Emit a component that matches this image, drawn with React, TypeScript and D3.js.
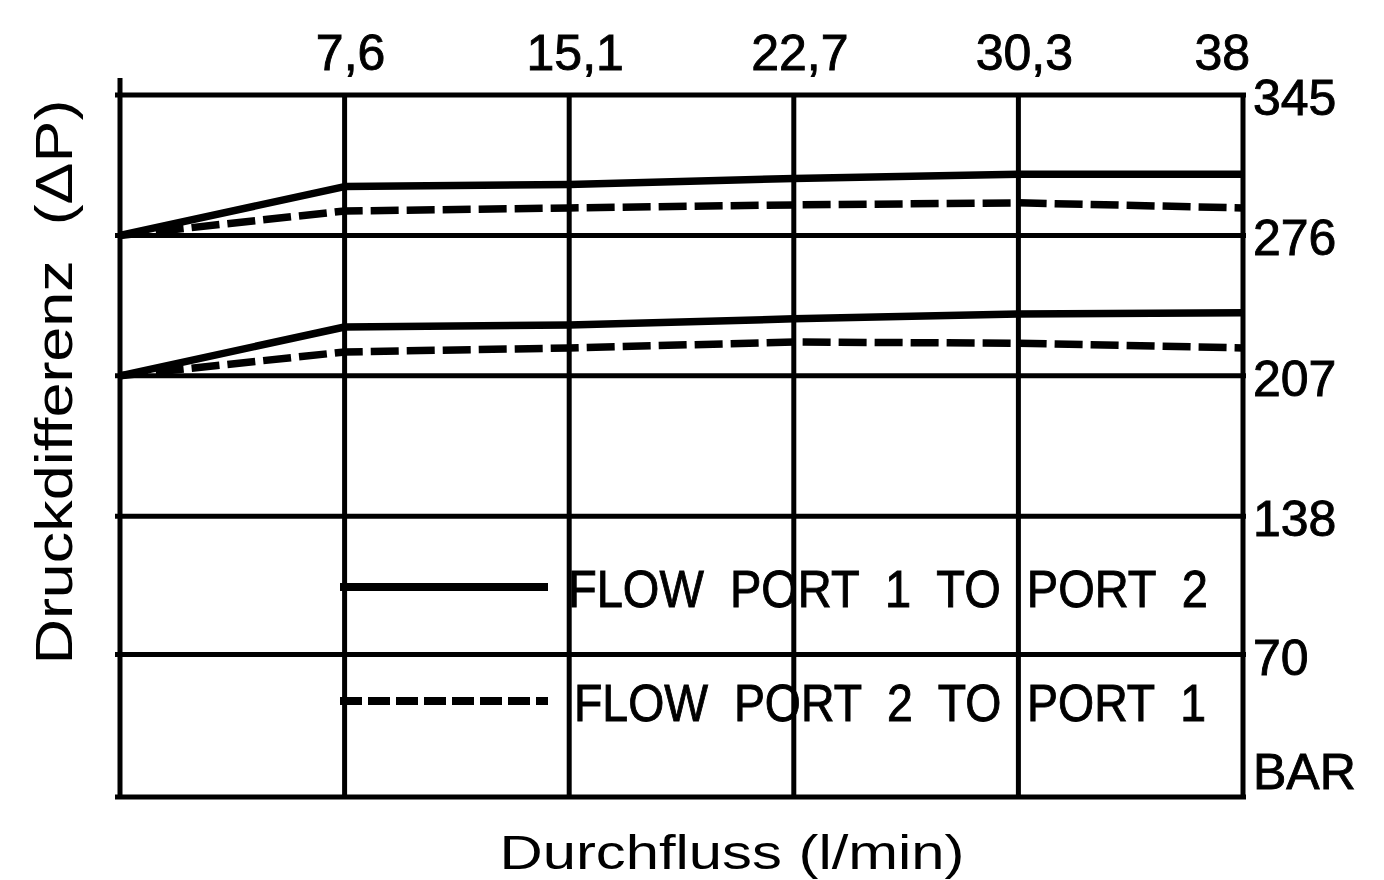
import React from "react";
import * as d3 from "d3";

// flow (l/min) at the grid columns
const flow = [0, 7.6, 15.1, 22.7, 30.3, 38];
const xTickLabels = ["", "7,6", "15,1", "22,7", "30,3", "38"];

// pressure gridlines (bar)
const yTicks = [0, 70, 138, 207, 276, 345];
const yTickLabels = ["BAR", "70", "138", "207", "276", "345"];

// two relief settings, each with both flow directions
const upperPort1to2 = [276, 300, 301, 304, 306, 306];
const upperPort2to1 = [276, 288, 289.5, 291, 292, 289.5];
const lowerPort1to2 = [207, 231, 232, 235, 237.4, 238];
const lowerPort2to1 = [207, 218.7, 220.7, 223.6, 223, 220.7];

const legendNames = ["FLOW  PORT  1  TO  PORT  2", "FLOW  PORT  2  TO  PORT  1"];

const W = 1384;
const H = 880;
const FONT = "'Liberation Sans', Arial, sans-serif";

export default function App() {
  // grid columns are equally spaced on the sheet, so map piecewise
  const x = d3
    .scaleLinear()
    .domain(flow)
    .range(flow.map((_, i) => 120 + (i * (1243 - 120)) / (flow.length - 1)));
  const y = d3.scaleLinear().domain([0, 345]).range([797, 95]);

  const line = d3
    .line<number>()
    .x((d, i) => x(flow[i]))
    .y((d) => y(d));

  const series = [
    { vals: upperPort1to2, dash: null },
    { vals: upperPort2to1, dash: "28 8" },
    { vals: lowerPort1to2, dash: null },
    { vals: lowerPort2to1, dash: "28 8" },
  ];

  const x0 = x(0), x1 = x(38);
  const yTop = y(345), yBot = y(0);
  const ink = { fill: "#000", stroke: "#000", strokeWidth: 0.9 };

  return (
    <svg
      width={W}
      height={H}
      style={{ position: "absolute", left: 0, top: 0, background: "#fff" }}
      fontFamily={FONT}
    >
      {/* horizontal grid */}
      {yTicks.map((t) => (
        <line key={"h" + t} x1={x0 - 5} x2={x1 + 3} y1={y(t)} y2={y(t)} stroke="#000" strokeWidth={5} />
      ))}
      {/* vertical grid */}
      {flow.map((f, i) => (
        <line
          key={"v" + i}
          x1={x(f)}
          x2={x(f)}
          y1={i === 0 ? yTop - 17 : yTop}
          y2={yBot + 2}
          stroke="#000"
          strokeWidth={5}
        />
      ))}

      {/* data */}
      {series.map((s, i) => (
        <path
          key={"s" + i}
          d={line(s.vals) || ""}
          fill="none"
          stroke="#000"
          strokeWidth={7.5}
          strokeDasharray={s.dash || undefined}
          strokeLinejoin="round"
        />
      ))}

      {/* top tick labels */}
      {flow.map((f, i) =>
        xTickLabels[i] ? (
          <text
            key={"xt" + i}
            x={i === flow.length - 1 ? x(f) + 7 : x(f) + 6}
            y={70}
            fontSize={50}
            textAnchor={i === flow.length - 1 ? "end" : "middle"}
            {...ink}
          >
            {xTickLabels[i]}
          </text>
        ) : null
      )}

      {/* right tick labels */}
      {yTicks.map((t, i) => (
        <text
          key={"yt" + t}
          x={x1 + 10}
          y={y(t) + (i === 0 ? -8 : 20)}
          fontSize={50}
          textAnchor="start"
          {...ink}
        >
          {yTickLabels[i]}
        </text>
      ))}

      {/* legend */}
      {legendNames.map((name, i) => {
        const ly = i === 0 ? 587 : 701;
        return (
          <g key={"lg" + i}>
            <line
              x1={340}
              x2={548}
              y1={ly}
              y2={ly}
              stroke="#000"
              strokeWidth={8}
              strokeDasharray={i === 1 ? "22 6" : undefined}
            />
            <text
              x={i === 0 ? 568 : 574}
              y={ly + 20}
              fontSize={51}
              textLength={i === 0 ? 640 : 632}
              lengthAdjust="spacingAndGlyphs"
              style={{ whiteSpace: "pre" }}
              {...ink}
            >
              {name}
            </text>
          </g>
        );
      })}

      {/* axis titles */}
      <text
        x={732}
        y={869}
        fontSize={48}
        textAnchor="middle"
        textLength={465}
        lengthAdjust="spacingAndGlyphs"
        style={{ whiteSpace: "pre" }}
      >
        Durchfluss (l/min)
      </text>
      <text
        transform="translate(72,382) rotate(-90)"
        fontSize={52}
        textAnchor="middle"
        textLength={565}
        lengthAdjust="spacingAndGlyphs"
        style={{ whiteSpace: "pre" }}
      >
        Druckdifferenz  (ΔP)
      </text>
    </svg>
  );
}
